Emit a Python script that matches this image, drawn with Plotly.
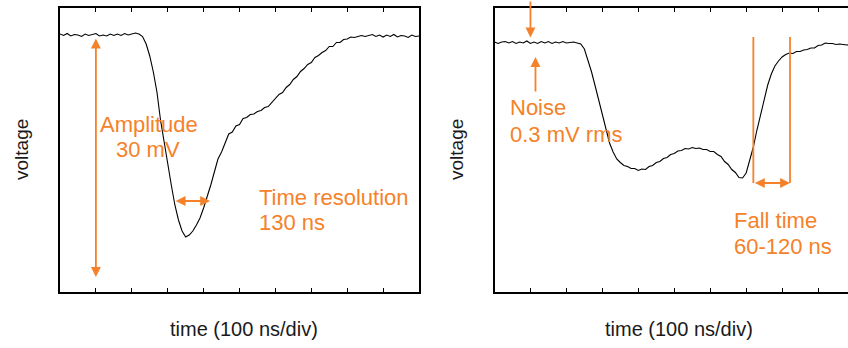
import plotly.graph_objects as go

# ---------------- data (oscilloscope traces, arbitrary voltage units) ----------------
# sample grid of the oscilloscope record: one sample every 10 ns
time_ns_left = list(range(0, 1001, 10))
voltage_left = [
    266, 264.5, 266.5, 264, 265.5, 265, 263.5, 266, 264.5, 265.5,
    266.5, 264, 265, 264, 266, 264.5, 266, 264.5, 266.5, 265,
    266, 267, 266,
    263.5, 256, 244, 228, 208, 180, 157, 137, 115, 95,
    80, 69, 63, 65, 69, 75, 82, 92, 103, 115,
    128, 141, 148, 157, 166, 168, 174, 175.5, 181.5, 182.5,
    185.5, 186, 188.5, 189.5, 192.5, 193.5, 197.5, 200.5, 205.5, 207.5,
    212.5, 215.5, 220.5, 223.5, 228.5, 231.5, 235.5, 237.5, 242.5, 244.5,
    247.5, 249.5, 253.5, 253.5, 257.5, 257.5, 260.5, 261, 263, 262.5,
    263.5, 264.5, 263.5, 264.5, 265.5, 263.5, 265, 263, 265, 263.5,
    265.5, 263, 264.5, 264, 262.5, 265, 263.5, 264,
]

time_ns_right = list(range(0, 991, 10))
voltage_right = [
    258, 256.5, 258, 258.5, 257, 258.5, 256.5, 258, 257, 259,
    256.5, 258, 256.5, 258.5, 257, 258.5, 256.5, 258, 257, 258.5,
    257, 257.5, 258, 257, 256,
    251, 240, 228, 214, 200, 185, 170, 157, 148, 141,
    137.5, 134.5, 133.5, 131.5, 131.5, 129.5, 131, 130.5, 133.5, 134.5,
    137.5, 138.5, 141.5, 142.5, 145.5, 146.5, 149, 149.5, 151.5, 151,
    152.5, 151.5, 152, 150.5, 150.5, 148.5, 148.5, 145.5, 143.5, 138.5,
    135.5, 130.5, 127.5, 122.5, 122, 127, 140, 153, 170, 186,
    201, 215, 226, 234, 239, 243, 245.5, 247, 246.5, 248.5,
    248.5, 250, 250.5, 252, 252, 254.5, 255, 257, 256.5, 256.5,
    255.5, 256, 255.5, 255, 255.5,
]

x_title = "time (100 ns/div)"
y_title = "voltage"

ORANGE = "#F5822A"
FONT = "Arial, Liberation Sans, sans-serif"

fig = go.Figure()
fig.add_trace(go.Scatter(x=time_ns_left, y=voltage_left, mode="lines",
                         line=dict(color="black", width=1.1), xaxis="x", yaxis="y",
                         showlegend=False, hoverinfo="skip"))
fig.add_trace(go.Scatter(x=time_ns_right, y=voltage_right, mode="lines",
                         line=dict(color="black", width=1.1), xaxis="x2", yaxis="y2",
                         showlegend=False, hoverinfo="skip"))

ydom = [1 - 292 / 348, 1 - 8 / 348]
axis_common = dict(showgrid=False, zeroline=False, showticklabels=False,
                   showline=True, linecolor="black", linewidth=1.6)
fig.update_layout(
    width=848, height=348,
    margin=dict(l=0, r=0, t=0, b=0),
    paper_bgcolor="white", plot_bgcolor="white",
    xaxis=dict(domain=[60 / 848, 419 / 848], range=[0, 1000], ticks="inside",
               ticklen=4, tickwidth=1, tickcolor="black", tick0=0, dtick=100,
               mirror="ticks", **axis_common),
    yaxis=dict(domain=ydom, range=[8, 292], ticks="", mirror=True, **axis_common),
    xaxis2=dict(domain=[494.5 / 848, 1], range=[0, 983.3], ticks="inside",
                ticklen=4, tickwidth=1, tickcolor="black", tick0=0, dtick=100,
                mirror="ticks", anchor="y2", **axis_common),
    yaxis2=dict(domain=ydom, range=[8, 292], ticks="", mirror=False,
                anchor="x2", **axis_common),
)

ann = []


def arrow(xr, yr, x, y, ax, ay, both=False):
    ann.append(dict(xref=xr, yref=yr, axref=xr, ayref=yr, x=x, y=y, ax=ax, ay=ay,
                    text="", showarrow=True, arrowhead=2, startarrowhead=2,
                    arrowside="end+start" if both else "end",
                    arrowsize=1.1, startarrowsize=1.1, arrowwidth=1.8,
                    arrowcolor=ORANGE, standoff=0, startstandoff=0))


def label(xr, yr, x, y, text, xanchor="left"):
    ann.append(dict(xref=xr, yref=yr, x=x, y=y, text=text, showarrow=False,
                    xanchor=xanchor, yanchor="middle",
                    font=dict(family=FONT, size=22, color=ORANGE)))


# left panel
arrow("x", "y", 100, 23, 100, 263, both=True)
label("x", "y", 248, 175.5, "Amplitude", "center")
label("x", "y", 246.5, 150.5, "30 mV", "center")
arrow("x", "y", 418, 99, 318, 99, both=True)
label("x", "y", 548.7, 102.3, "Time resolution")
label("x", "y", 548.7, 77.5, "130 ns")

# right panel
arrow("x2", "y2", 100, 262.5, 100, 300)
arrow("x2", "y2", 114, 243, 114, 207)
label("x2", "y2", 37.6, 192.5, "Noise")
label("x2", "y2", 37.6, 165.7, "0.3 mV rms")
arrow("x2", "y2", 822, 117, 720, 117, both=True)
label("x2", "y2", 660.6, 79.5, "Fall time")
label("x2", "y2", 660.6, 53.5, "60-120 ns")

for t in (720, 822):
    fig.add_shape(type="line", xref="x2", yref="y2", x0=t, x1=t, y0=117, y1=263,
                  line=dict(color=ORANGE, width=1.8))

# axis titles
for cx in (244, 679):
    ann.append(dict(xref="paper", yref="paper", x=cx / 848, y=1 - 329 / 348,
                    text=x_title, showarrow=False, xanchor="center", yanchor="middle",
                    font=dict(family=FONT, size=20, color="#1a1a1a")))
for cx in (21, 456):
    ann.append(dict(xref="paper", yref="paper", x=cx / 848, y=1 - 150 / 348,
                    text=y_title, showarrow=False, textangle=-90,
                    xanchor="center", yanchor="middle",
                    font=dict(family=FONT, size=19, color="#1a1a1a")))

fig.update_layout(annotations=ann)
fig.write_html("out.html", config={"displayModeBar": False},
               post_script="document.body.style.margin='0';document.body.style.overflow='hidden';")
